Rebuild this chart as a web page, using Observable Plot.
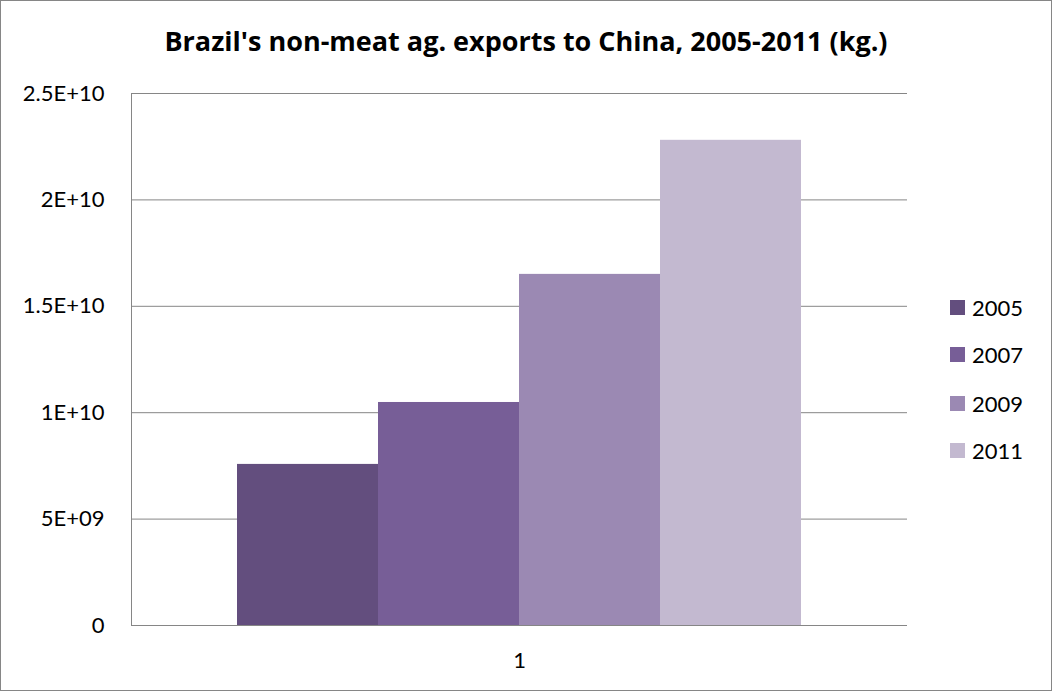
<!DOCTYPE html>
<html>
<head>
<meta charset="utf-8">
<script src="https://cdn.jsdelivr.net/npm/d3@7"></script>
<script src="https://cdn.jsdelivr.net/npm/@observablehq/plot@0.6"></script>
<style>
  html, body { margin: 0; padding: 0; background: #fff; }
  #wrap { position: relative; width: 1052px; height: 691px; overflow: hidden; font-family: Lato, "Open Sans", sans-serif; }
  #border { position: absolute; left: 0; top: 0; width: 1050px; height: 689px; border: 1px solid #868686; pointer-events: none; }
  #title { position: absolute; left: 0; top: 0; width: 1052px; height: 70px; line-height: 82px; text-align: center; font-family: "Open Sans", Lato, sans-serif; font-weight: bold; font-size: 27px; color: #000; white-space: nowrap; }
  #chart { position: absolute; left: 0; top: 70px; }
  .leg { position: absolute; left: 950px; height: 24px; display: flex; align-items: center; font-size: 22px; color: #000; }
  .leg span.sw { display: inline-block; width: 15px; height: 15px; margin-right: 7px; }
</style>
</head>
<body>
<div id="wrap">
  <div id="title">Brazil's non-meat ag. exports to China, 2005-2011 (kg.)</div>
  <div id="chart"></div>
  <div id="legend"></div>
  <div id="border"></div>
</div>
<script>
const categories = ["1"];
const years = ["2005", "2007", "2009", "2011"];
const values = [7.57e9, 1.048e10, 1.65e10, 2.28e10];
const colors = ["#634E7E", "#775E97", "#9B89B3", "#C3B9D0"];
const yTicks = [0, 5e9, 1e10, 1.5e10, 2e10, 2.5e10];
const yTickLabels = ["0", "5E+09", "1E+10", "1.5E+10", "2E+10", "2.5E+10"];

const data = years.map((yr, i) => ({category: categories[0], year: yr, value: values[i]}));
const labelOf = new Map(yTicks.map((t, i) => [t, yTickLabels[i]]));

const chart = Plot.plot({
  width: 1052,
  height: 621,
  marginLeft: 131,
  marginRight: 145,
  marginTop: 23,
  marginBottom: 66,
  style: {fontFamily: "Lato, 'Open Sans', sans-serif", fontSize: "22px", color: "#000", background: "transparent"},
  fx: {domain: categories, padding: 0, label: null, axis: "bottom", tickSize: 0, tickPadding: 27},
  x: {domain: years, paddingInner: 0, paddingOuter: 0.75, axis: null},
  y: {domain: [0, 2.5e10], ticks: yTicks, tickFormat: d => labelOf.get(d), tickSize: 0, tickPadding: 27, label: null},
  color: {domain: years, range: colors},
  marks: [
    Plot.ruleY(yTicks, {stroke: "#868686", strokeWidth: 1}),
    Plot.frame({anchor: "left", stroke: "#868686"}),
    Plot.barY(data, {fx: "category", x: "year", y: "value", fill: "year"})
  ]
});
document.getElementById("chart").appendChild(chart);

const legend = document.getElementById("legend");
const legTops = [295, 342, 391, 438];
years.forEach((yr, i) => {
  const d = document.createElement("div");
  d.className = "leg";
  d.style.top = legTops[i] + "px";
  const sw = document.createElement("span");
  sw.className = "sw";
  sw.style.background = colors[i];
  d.appendChild(sw);
  d.appendChild(document.createTextNode(yr));
  legend.appendChild(d);
});
</script>
</body>
</html>
